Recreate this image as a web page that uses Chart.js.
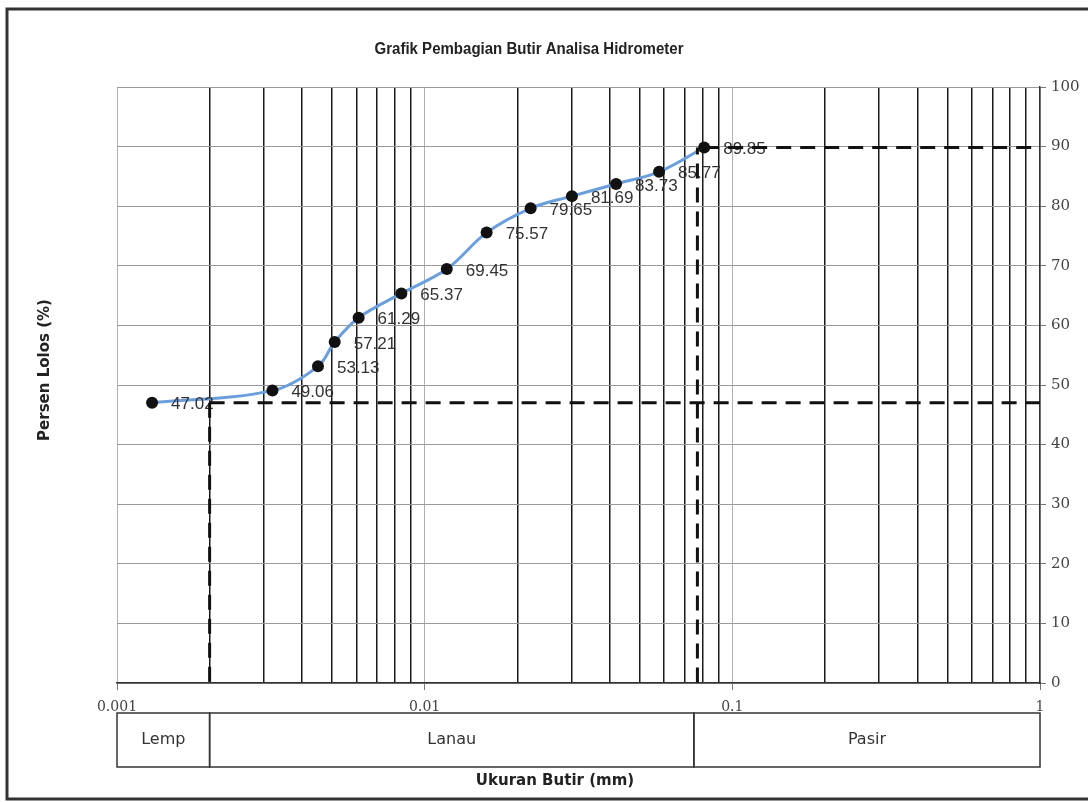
<!DOCTYPE html>
<html><head><meta charset="utf-8">
<script src="https://cdn.jsdelivr.net/npm/chart.js@4.4.1/dist/chart.umd.min.js"></script>
<style>html,body{margin:0;padding:0;background:#fff;}#wrap{width:1088px;height:802px;}</style>
</head><body><div id="wrap"><canvas id="c" width="1088" height="802"></canvas></div>
<script>
const chartTitle = 'Grafik Pembagian Butir Analisa Hidrometer';
const xAxisTitle = 'Ukuran Butir (mm)';
const yAxisTitle = 'Persen Lolos (%)';
const grainSize = [0.0013, 0.0032, 0.0045, 0.0051, 0.0061, 0.0084, 0.0118, 0.0159, 0.0221, 0.0301, 0.0419, 0.0578, 0.081];
const percentPassing = [47.02, 49.06, 53.13, 57.21, 61.29, 65.37, 69.45, 75.57, 79.65, 81.69, 83.73, 85.77, 89.85];
const xTickLabels = ['0.001', '0.01', '0.1', '1'];
const zoneLabels = ['Lemp', 'Lanau', 'Pasir'];
const zoneBounds = [0.001, 0.002, 0.075, 1];
const refLowX = [0.002, 1];
const refLowY = [47.02, 0];
const refHighX = [0.081, 1, 0.077];
const refHighY = [89.85, 0];

function isDecade(v) { const l = Math.log10(v); return Math.abs(l - Math.round(l)) < 1e-6; }
function isIntMultiple(v) {
  const m = v / Math.pow(10, Math.floor(Math.log10(v) + 1e-9));
  return Math.abs(m - Math.round(m)) < 1e-6;
}

const mainData = grainSize.map((x, i) => ({x, y: percentPassing[i]}));
const dashStyle = {type: 'line', borderColor: '#111', borderWidth: 3, borderDash: [15, 9], pointRadius: 0, tension: 0, order: 0, fill: false};

const labelPlugin = {
  id: 'labels',
  afterDatasetDraw(chart, args) {
    if (args.index !== 0) return;
    const ctx = chart.ctx;
    ctx.save();
    ctx.font = '17px "Liberation Sans", Arial, sans-serif';
    ctx.fillStyle = '#333';
    ctx.textAlign = 'left';
    ctx.textBaseline = 'middle';
    args.meta.data.forEach((pt, i) => {
      ctx.fillText(percentPassing[i].toFixed(2), pt.x + 19, pt.y + 2);
    });
    ctx.restore();
  }
};

const decorPlugin = {
  id: 'decor',
  beforeDraw(chart) {
    const ctx = chart.ctx;
    ctx.save();
    ctx.fillStyle = '#fff';
    ctx.fillRect(0, 0, chart.width, chart.height);
    ctx.restore();
  },
  afterDraw(chart) {
    const ctx = chart.ctx;
    const xs = chart.scales.x;
    ctx.save();
    const top = 713, bot = 767;
    ctx.strokeStyle = '#333';
    ctx.lineWidth = 1.5;
    ctx.font = '16px "DejaVu Sans", Verdana, sans-serif';
    ctx.fillStyle = '#333';
    ctx.textAlign = 'center';
    ctx.textBaseline = 'middle';
    for (let i = 0; i < zoneLabels.length; i++) {
      const a = xs.getPixelForValue(zoneBounds[i]);
      const b = xs.getPixelForValue(zoneBounds[i + 1]);
      ctx.strokeRect(a, top, b - a, bot - top);
      ctx.fillText(zoneLabels[i], (a + b) / 2, (top + bot) / 2);
    }
    ctx.font = 'bold 15px "DejaVu Sans", Verdana, sans-serif';
    ctx.fillStyle = '#222';
    ctx.fillText(xAxisTitle, 555, 781);
    ctx.save();
    ctx.translate(45, 370);
    ctx.rotate(-Math.PI / 2);
    ctx.fillText(yAxisTitle, 0, 0);
    ctx.restore();
    ctx.font = 'bold 15px "Liberation Sans Narrow", "Liberation Sans", Arial, sans-serif';
    const w = ctx.measureText(chartTitle).width;
    ctx.save();
    ctx.translate(529, 50);
    ctx.scale(309 / w, 1.05);
    ctx.fillText(chartTitle, 0, 0);
    ctx.restore();
    ctx.strokeStyle = '#333';
    ctx.lineWidth = 3;
    ctx.beginPath();
    ctx.moveTo(1090, 9); ctx.lineTo(7, 9); ctx.lineTo(7, 799); ctx.lineTo(1090, 799);
    ctx.stroke();
    ctx.restore();
  }
};

new Chart(document.getElementById('c'), {
  type: 'line',
  data: {
    datasets: [
      {label: 'Hidrometer', data: mainData, borderColor: '#6a9edc', borderWidth: 3, tension: 0.35,
       pointRadius: 6, pointHoverRadius: 6, pointBackgroundColor: '#111', pointBorderColor: '#111', pointBorderWidth: 0, order: 1, fill: false},
      Object.assign({}, dashStyle, {label: 'h1', data: [{x: refLowX[0], y: refLowY[0]}, {x: refLowX[1], y: refLowY[0]}]}),
      Object.assign({}, dashStyle, {label: 'v1', data: [{x: refLowX[0], y: refLowY[0]}, {x: refLowX[0], y: refLowY[1]}]}),
      Object.assign({}, dashStyle, {label: 'h2', data: [{x: refHighX[0], y: refHighY[0]}, {x: refHighX[1], y: refHighY[0]}]}),
      Object.assign({}, dashStyle, {label: 'v2', data: [{x: refHighX[2], y: refHighY[0]}, {x: refHighX[2], y: refHighY[1]}], borderDashOffset: 8})
    ]
  },
  options: {
    responsive: false,
    animation: false,
    devicePixelRatio: 1,
    layout: {padding: {left: 117, top: 87, right: 0, bottom: 0}},
    plugins: {legend: {display: false}, title: {display: false}, tooltip: {enabled: false}},
    scales: {
      x: {
        type: 'logarithmic', min: 0.001, max: 1, position: 'bottom',
        afterFit(s) { s.height = 119; },
        afterBuildTicks(s) { s.ticks = s.ticks.filter(t => isIntMultiple(t.value)); },
        grid: {
          color: c => (c.tick && isDecade(c.tick.value)) ? '#b0b0b0' : '#1a1a1a',
          lineWidth: c => (c.tick && isDecade(c.tick.value)) ? 1 : 1.5,
          tickLength: 7,
          tickColor: c => (c.tick && isDecade(c.tick.value)) ? '#777' : 'rgba(0,0,0,0)'
        },
        border: {color: '#333', width: 1.5},
        ticks: {
          autoSkip: false, maxRotation: 0, minRotation: 0, padding: 9,
          color: '#444', font: {family: '"DejaVu Serif", "Liberation Serif", serif', size: 14},
          callback: v => isDecade(v) ? xTickLabels[Math.round(Math.log10(v)) + 3] : ''
        }
      },
      y: {
        type: 'linear', min: 0, max: 100, position: 'right',
        afterFit(s) { s.width = 48; },
        grid: {color: '#9a9a9a', lineWidth: 1, tickLength: 6, tickColor: '#777'},
        border: {color: '#333', width: 1.5},
        ticks: {stepSize: 10, padding: 5, color: '#444', font: {family: '"DejaVu Serif", "Liberation Serif", serif', size: 15}}
      }
    }
  },
  plugins: [labelPlugin, decorPlugin]
});
</script></body></html>
